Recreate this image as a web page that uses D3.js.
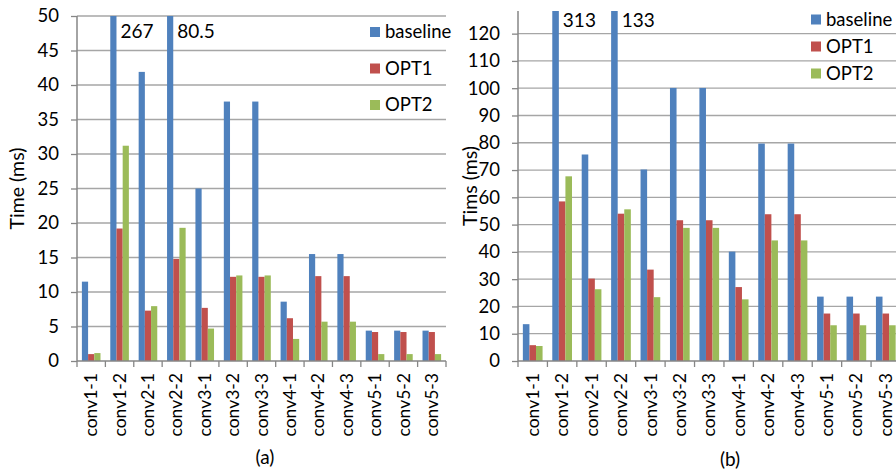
<!DOCTYPE html>
<html>
<head>
<meta charset="utf-8">
<script src="https://cdn.jsdelivr.net/npm/d3@7"></script>
<style>
  body { margin: 0; background: #fff; }
  svg text { font-family: Lato, "Open Sans", sans-serif; fill: #000; }
</style>
</head>
<body>
<div id="chart"></div>
<script>
// categories and series
var categories = ["conv1-1", "conv1-2", "conv2-1", "conv2-2", "conv3-1", "conv3-2", "conv3-3",
    "conv4-1", "conv4-2", "conv4-3", "conv5-1", "conv5-2", "conv5-3"];
var seriesNames = ["baseline", "OPT1", "OPT2"];

// panel (a)
var baselineA = [11.5, 267, 41.9, 80.5, 25.0, 37.6, 37.6, 8.6, 15.5, 15.5, 4.4, 4.4, 4.4];
var opt1A = [1.0, 19.2, 7.3, 14.8, 7.7, 12.2, 12.2, 6.2, 12.3, 12.3, 4.2, 4.2, 4.2];
var opt2A = [1.15, 31.2, 7.95, 19.3, 4.7, 12.4, 12.4, 3.2, 5.7, 5.7, 1.0, 1.0, 1.0];
var ticksA = [0, 5, 10, 15, 20, 25, 30, 35, 40, 45, 50];

// panel (b)
var baselineB = [13.5, 313, 75.7, 133, 70.2, 100.1, 100.1, 40.1, 79.7, 79.7, 23.6, 23.6, 23.6];
var opt1B = [5.8, 58.5, 30.2, 54.0, 33.5, 51.6, 51.6, 27.1, 53.8, 53.8, 17.4, 17.4, 17.4];
var opt2B = [5.5, 67.7, 26.3, 55.6, 23.4, 48.8, 48.8, 22.6, 44.2, 44.2, 13.1, 13.1, 13.1];
var ticksB = [0, 10, 20, 30, 40, 50, 60, 70, 80, 90, 100, 110, 120];

var colors = ["#4F81BD", "#C0504D", "#9BBB59"];

var width = 896;
var height = 471;
var fontSize = '18.5px';

var svg = d3.select('#chart')
    .append('svg')
    .attr('width', width)
    .attr('height', height);

function drawPanel(opts) {
    var series = opts.series;
    var g = svg.append('g');

    // clip so the tall bars stop at the top of the plot
    var clipId = 'clip-' + opts.id;
    svg.append('defs').append('clipPath')
        .attr('id', clipId)
        .append('rect')
        .attr('x', opts.x0)
        .attr('y', opts.top)
        .attr('width', opts.x1 - opts.x0)
        .attr('height', opts.bottom - opts.top);

    var x0 = d3.scaleBand()
        .domain(categories)
        .range([opts.x0, opts.x1])
        .paddingInner(opts.pad)
        .paddingOuter(opts.pad / 2);

    var x1 = d3.scaleBand()
        .domain(seriesNames)
        .range([0, x0.bandwidth()]);

    var y = d3.scaleLinear()
        .domain([0, opts.yMax])
        .range([opts.bottom, opts.top]);

    // gridlines
    g.selectAll('.grid')
        .data(opts.ticks.filter(function(d) { return d > 0; }))
        .enter()
        .append('line')
        .attr('x1', opts.x0)
        .attr('x2', opts.x1)
        .attr('y1', function(d) { return y(d); })
        .attr('y2', function(d) { return y(d); })
        .attr('stroke', '#a6a6a6')
        .attr('stroke-width', 1.3);

    // bars
    var barLayer = g.append('g')
        .attr('clip-path', 'url(#' + clipId + ')');

    var groups = barLayer.selectAll('.cat')
        .data(categories)
        .enter()
        .append('g')
        .attr('transform', function(d) { return 'translate(' + x0(d) + ',0)'; });

    groups.selectAll('rect')
        .data(function(d, i) {
            return seriesNames.map(function(s, j) {
                return { name: s, value: series[j][i], color: colors[j] };
            });
        })
        .enter()
        .append('rect')
        .attr('x', function(d) { return x1(d.name); })
        .attr('y', function(d) { return y(Math.min(d.value, opts.yMax)); })
        .attr('width', x1.bandwidth())
        .attr('height', function(d) { return opts.bottom - y(Math.min(d.value, opts.yMax)); })
        .attr('fill', function(d) { return d.color; });

    // values of the clipped bars
    categories.forEach(function(c, i) {
        var v = series[0][i];
        if (v > opts.yMax) {
            g.append('text')
                .attr('x', x0(c) + x1('baseline') + x1.bandwidth() + 4)
                .attr('y', opts.top + opts.labelDy)
                .style('font-size', '19px')
                .text(v);
        }
    });

    // y axis
    var yAxis = d3.axisLeft(y)
        .tickValues(opts.ticks)
        .tickSize(6)
        .tickPadding(12);
    var ya = g.append('g')
        .attr('transform', 'translate(' + opts.x0 + ',0)')
        .call(yAxis);
    ya.select('.domain').remove();
    ya.selectAll('line').attr('stroke', '#868686').attr('stroke-width', 1.3);
    ya.selectAll('text').style('font-size', fontSize).style('font-family', 'Lato, sans-serif');
    g.append('line')
        .attr('x1', opts.x0).attr('x2', opts.x0)
        .attr('y1', opts.top).attr('y2', opts.bottom)
        .attr('stroke', '#868686')
        .attr('stroke-width', 1.5);

    // x axis
    var xAxis = d3.axisBottom(x0).tickSize(0).tickPadding(0);
    var xa = g.append('g')
        .attr('transform', 'translate(0,' + opts.bottom + ')')
        .call(xAxis);
    xa.select('.domain').remove();
    xa.selectAll('text')
        .attr('transform', 'rotate(-90)')
        .attr('x', -12)
        .attr('y', 0)
        .attr('dy', '0.35em')
        .style('text-anchor', 'end')
        .style('font-size', '17.5px')
        .style('font-family', 'Lato, sans-serif');
    g.append('line')
        .attr('x1', opts.x0).attr('x2', opts.x1)
        .attr('y1', opts.bottom).attr('y2', opts.bottom)
        .attr('stroke', '#868686')
        .attr('stroke-width', 1.5);
    var step = x0.step();
    g.selectAll('.xtick')
        .data(d3.range(categories.length + 1))
        .enter()
        .append('line')
        .attr('x1', function(i) { return opts.x0 + i * step; })
        .attr('x2', function(i) { return opts.x0 + i * step; })
        .attr('y1', opts.bottom)
        .attr('y2', opts.bottom + 6)
        .attr('stroke', '#868686')
        .attr('stroke-width', 1.3);

    // axis title
    g.append('text')
        .attr('transform', 'translate(' + opts.titleX + ',' + ((opts.top + opts.bottom) / 2) + ') rotate(-90)')
        .attr('text-anchor', 'middle')
        .attr('dy', '0.35em')
        .style('font-size', '19.5px')
        .text(opts.title);

    // legend
    var leg = g.selectAll('.leg')
        .data(seriesNames)
        .enter()
        .append('g')
        .attr('transform', function(d, i) {
            return 'translate(' + opts.legX + ',' + (opts.legY + i * opts.legStep) + ')';
        });
    leg.append('rect')
        .attr('x', 0).attr('y', -5)
        .attr('width', 10).attr('height', 10)
        .attr('fill', function(d, i) { return colors[i]; });
    leg.append('text')
        .attr('x', 15)
        .attr('dy', '0.35em')
        .style('font-size', fontSize)
        .text(function(d) { return d; });

    // caption
    g.append('text')
        .attr('x', opts.capX)
        .attr('y', opts.capY)
        .attr('text-anchor', 'middle')
        .style('font-size', '19px')
        .text(opts.caption);
}

drawPanel({
    id: 'a', series: [baselineA, opt1A, opt2A], ticks: ticksA, yMax: 50,
    x0: 77, x1: 446, top: 16, bottom: 361, pad: 0.345,
    labelDy: 22, title: 'Time (ms)', titleX: 17,
    legX: 370, legY: 32, legStep: 36.5,
    caption: '(a)', capX: 265, capY: 464
});

drawPanel({
    id: 'b', series: [baselineB, opt1B, opt2B], ticks: ticksB, yMax: 128.3,
    x0: 518, x1: 900.5, top: 11, bottom: 361, pad: 0.33,
    labelDy: 16, title: 'Tims (ms)', titleX: 470,
    legX: 811, legY: 19.5, legStep: 27,
    caption: '(b)', capX: 730, capY: 466
});
</script>
</body>
</html>
